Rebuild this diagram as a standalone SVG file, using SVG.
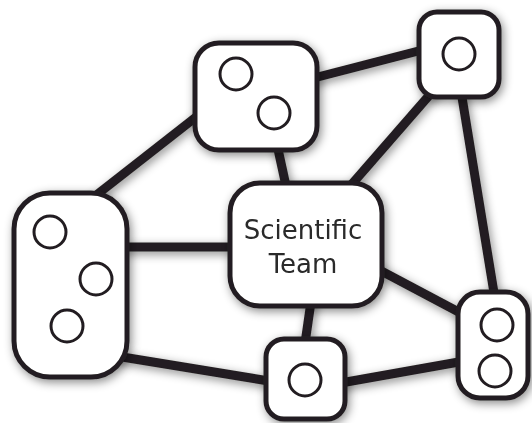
<svg xmlns="http://www.w3.org/2000/svg" width="532" height="423" viewBox="0 0 532 423">
<defs>
<filter id="sh" x="-30%" y="-30%" width="160%" height="160%">
<feDropShadow dx="2" dy="3" stdDeviation="5" flood-color="#000" flood-opacity="0.45"/>
</filter>
<style>
.node{fill:#fff;stroke:#231f20;stroke-width:5}
.dot{fill:#fff;stroke:#231f20;stroke-width:3}
.edge{stroke:#231f20;stroke-width:9;stroke-linecap:butt;fill:none}
.lbl{font-family:"DejaVu Sans",Verdana,sans-serif;font-size:26px;fill:#2a2a2a;text-anchor:middle}
</style>
</defs>
<rect width="532" height="423" fill="#fff"/>
<g id="connectors" filter="url(#sh)">
<line class="edge" x1="90" y1="200" x2="205" y2="110"/>
<line class="edge" x1="120" y1="247" x2="240" y2="247"/>
<line class="edge" x1="110" y1="355" x2="275" y2="382"/>
<line class="edge" x1="310" y1="79" x2="430" y2="48"/>
<line class="edge" x1="276" y1="140" x2="288" y2="195"/>
<line class="edge" x1="440" y1="83" x2="345" y2="192"/>
<line class="edge" x1="460" y1="85" x2="496" y2="305"/>
<line class="edge" x1="370" y1="265" x2="470" y2="318"/>
<line class="edge" x1="312" y1="295" x2="304" y2="350"/>
<line class="edge" x1="335" y1="384" x2="470" y2="360"/>
</g>
<g id="n-left" filter="url(#sh)">
<rect class="node" x="14" y="193" width="113" height="184" rx="36"/>
<circle class="dot" cx="50" cy="232" r="16"/>
<circle class="dot" cx="96" cy="279" r="16"/>
<circle class="dot" cx="67" cy="326" r="16"/>
</g>
<g id="n-topmid" filter="url(#sh)">
<rect class="node" x="195" y="43" width="122" height="107" rx="24"/>
<circle class="dot" cx="236" cy="74" r="16"/>
<circle class="dot" cx="274" cy="113" r="16"/>
</g>
<g id="n-topright" filter="url(#sh)">
<rect class="node" x="419" y="12" width="80" height="85" rx="18"/>
<circle class="dot" cx="459" cy="54" r="16"/>
</g>
<g id="n-center" filter="url(#sh)">
<rect class="node" x="230" y="183" width="152" height="123" rx="30"/>
<text class="lbl" x="303" y="239">Scientific</text>
<text class="lbl" x="303" y="273">Team</text>
</g>
<g id="n-bottom" filter="url(#sh)">
<rect class="node" x="266" y="339" width="79" height="80" rx="18"/>
<circle class="dot" cx="305" cy="380" r="16"/>
</g>
<g id="n-right" filter="url(#sh)">
<rect class="node" x="458" y="292" width="70" height="106" rx="22"/>
<circle class="dot" cx="497" cy="325" r="16"/>
<circle class="dot" cx="495" cy="371" r="16"/>
</g>
</svg>
